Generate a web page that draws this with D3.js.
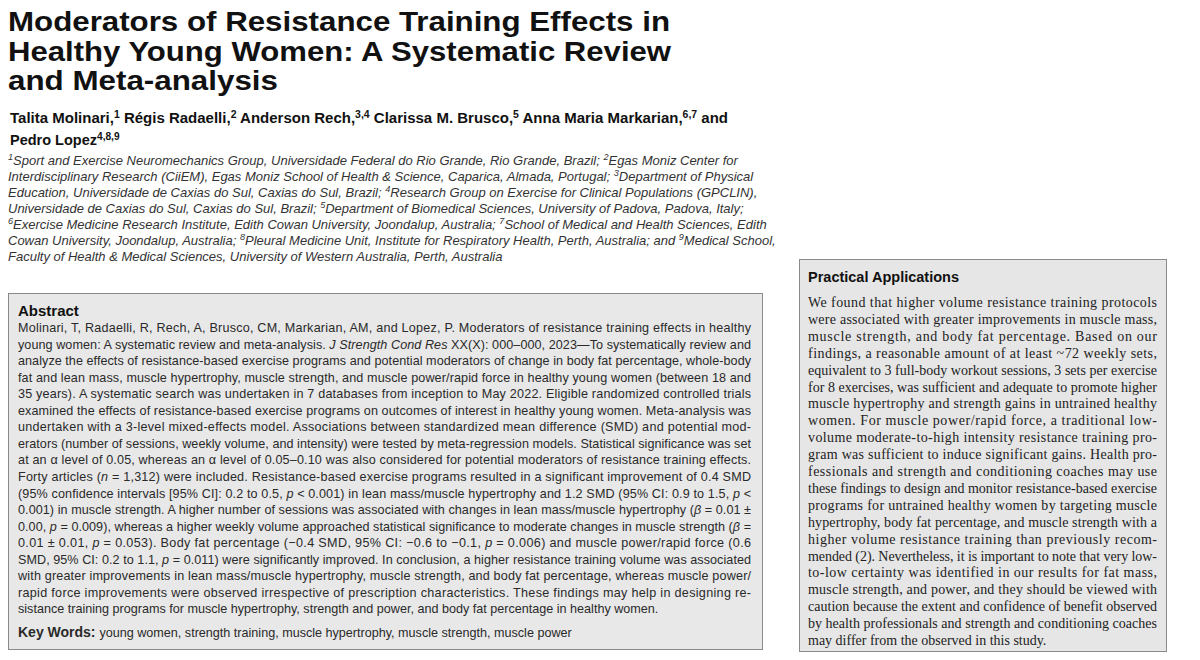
<!DOCTYPE html>
<html><head><meta charset="utf-8">
<script src="https://cdn.jsdelivr.net/npm/d3@7"></script>
<style>body{margin:0;background:#fff}</style>
</head><body>
<script>
// text content, one entry per printed line; *...* italic, ^...^ superscript
var titleLines = [
  "Moderators of Resistance Training Effects in",
  "Healthy Young Women: A Systematic Review",
  "and Meta-analysis"
];
var titleWidths = [662, 663, 270];
var authorLines = [
  "Talita Molinari,^1^ Régis Radaelli,^2^ Anderson Rech,^3,4^ Clarissa M. Brusco,^5^ Anna Maria Markarian,^6,7^ and",
  "Pedro Lopez^4,8,9^"
];
var affilLines = [
  "*^1^Sport and Exercise Neuromechanics Group, Universidade Federal do Rio Grande, Rio Grande, Brazil; ^2^Egas Moniz Center for*",
  "*Interdisciplinary Research (CiiEM), Egas Moniz School of Health & Science, Caparica, Almada, Portugal; ^3^Department of Physical*",
  "*Education, Universidade de Caxias do Sul, Caxias do Sul, Brazil; ^4^Research Group on Exercise for Clinical Populations (GPCLIN),*",
  "*Universidade de Caxias do Sul, Caxias do Sul, Brazil; ^5^Department of Biomedical Sciences, University of Padova, Padova, Italy;*",
  "*^6^Exercise Medicine Research Institute, Edith Cowan University, Joondalup, Australia; ^7^School of Medical and Health Sciences, Edith*",
  "*Cowan University, Joondalup, Australia; ^8^Pleural Medicine Unit, Institute for Respiratory Health, Perth, Australia; and ^9^Medical School,*",
  "*Faculty of Health & Medical Sciences, University of Western Australia, Perth, Australia*"
];
var abstractLines = [
  "Molinari, T, Radaelli, R, Rech, A, Brusco, CM, Markarian, AM, and Lopez, P. Moderators of resistance training effects in healthy",
  "young women: A systematic review and meta-analysis. *J Strength Cond Res* XX(X): 000–000, 2023—To systematically review and",
  "analyze the effects of resistance-based exercise programs and potential moderators of change in body fat percentage, whole-body",
  "fat and lean mass, muscle hypertrophy, muscle strength, and muscle power/rapid force in healthy young women (between 18 and",
  "35 years). A systematic search was undertaken in 7 databases from inception to May 2022. Eligible randomized controlled trials",
  "examined the effects of resistance-based exercise programs on outcomes of interest in healthy young women. Meta-analysis was",
  "undertaken with a 3-level mixed-effects model. Associations between standardized mean difference (SMD) and potential mod-",
  "erators (number of sessions, weekly volume, and intensity) were tested by meta-regression models. Statistical significance was set",
  "at an α level of 0.05, whereas an α level of 0.05–0.10 was also considered for potential moderators of resistance training effects.",
  "Forty articles (*n* = 1,312) were included. Resistance-based exercise programs resulted in a significant improvement of 0.4 SMD",
  "(95% confidence intervals [95% CI]: 0.2 to 0.5, *p* < 0.001) in lean mass/muscle hypertrophy and 1.2 SMD (95% CI: 0.9 to 1.5, *p* <",
  "0.001) in muscle strength. A higher number of sessions was associated with changes in lean mass/muscle hypertrophy (*β* = 0.01 ±",
  "0.00, *p* = 0.009), whereas a higher weekly volume approached statistical significance to moderate changes in muscle strength (*β* =",
  "0.01 ± 0.01, *p* = 0.053). Body fat percentage (−0.4 SMD, 95% CI: −0.6 to −0.1, *p* = 0.006) and muscle power/rapid force (0.6",
  "SMD, 95% CI: 0.2 to 1.1, *p* = 0.011) were significantly improved. In conclusion, a higher resistance training volume was associated",
  "with greater improvements in lean mass/muscle hypertrophy, muscle strength, and body fat percentage, whereas muscle power/",
  "rapid force improvements were observed irrespective of prescription characteristics. These findings may help in designing re-",
  "sistance training programs for muscle hypertrophy, strength and power, and body fat percentage in healthy women."
];
var keyWords = "young women, strength training, muscle hypertrophy, muscle strength, muscle power";
var practicalLines = [
  "We found that higher volume resistance training protocols",
  "were associated with greater improvements in muscle mass,",
  "muscle strength, and body fat percentage. Based on our",
  "findings, a reasonable amount of at least ~72 weekly sets,",
  "equivalent to 3 full-body workout sessions, 3 sets per exercise",
  "for 8 exercises, was sufficient and adequate to promote higher",
  "muscle hypertrophy and strength gains in untrained healthy",
  "women. For muscle power/rapid force, a traditional low-",
  "volume moderate-to-high intensity resistance training pro-",
  "gram was sufficient to induce significant gains. Health pro-",
  "fessionals and strength and conditioning coaches may use",
  "these findings to design and monitor resistance-based exercise",
  "programs for untrained healthy women by targeting muscle",
  "hypertrophy, body fat percentage, and muscle strength with a",
  "higher volume resistance training than previously recom-",
  "mended (2). Nevertheless, it is important to note that very low-",
  "to-low certainty was identified in our results for fat mass,",
  "muscle strength, and power, and they should be viewed with",
  "caution because the extent and confidence of benefit observed",
  "by health professionals and strength and conditioning coaches",
  "may differ from the observed in this study."
];

var svg = d3.select("body").append("svg").attr("width", 1200).attr("height", 660)
  .style("font-family", "Liberation Sans, Arial, sans-serif");

// parse *italic* and ^sup^ markup into tspans
function richLine(sel, str) {
  var italic = false, sup = false, buf = "";
  function flush() {
    if (!buf) return;
    var t = sel.append("tspan").text(buf);
    if (italic) t.attr("font-style", "italic");
    if (sup) t.attr("baseline-shift", "super").attr("font-size", "70%");
    buf = "";
  }
  for (var i = 0; i < str.length; i++) {
    var c = str[i];
    if (c === "*") { flush(); italic = !italic; }
    else if (c === "^") { flush(); sup = !sup; }
    else buf += c;
  }
  flush();
}

function block(lines, o) {
  lines.forEach(function (l, i) {
    var t = svg.append("text")
      .attr("x", o.x).attr("y", o.y + i * o.dy)
      .attr("font-size", o.size)
      .attr("font-weight", o.weight || "normal")
      .attr("fill", o.fill || "#231f20");
    if (o.family) t.style("font-family", o.family);
    var w = o.widths ? o.widths[i] : (i < lines.length - 1 ? o.width : null);
    if (w) t.attr("textLength", w).attr("lengthAdjust", o.adjust || "spacing");
    richLine(t, l);
  });
}

block(titleLines, {x: 8, y: 31, dy: 29.5, size: 28, weight: "bold", fill: "#111",
  widths: titleWidths, adjust: "spacingAndGlyphs"});
block(authorLines, {x: 10, y: 123, dy: 22, size: 14.5, weight: "bold", fill: "#111",
  widths: [718, null], adjust: "spacingAndGlyphs"});
block(affilLines, {x: 8, y: 165, dy: 16, size: 13, fill: "#333"});

// abstract box
svg.append("rect").attr("x", 8.5).attr("y", 293.5).attr("width", 754).attr("height", 356)
  .attr("fill", "#e8e8e8").attr("stroke", "#8a8a8a");
svg.append("text").attr("x", 18).attr("y", 316).attr("font-size", 15).attr("font-weight", "bold")
  .attr("fill", "#111").text("Abstract");
block(abstractLines, {x: 18, y: 332, dy: 16.55, size: 12.6, width: 733, fill: "#2a2a2a"});
var kw = svg.append("text").attr("x", 18).attr("y", 637).attr("font-size", 12.6).attr("fill", "#2a2a2a");
kw.append("tspan").attr("font-weight", "bold").attr("font-size", 14).text("Key Words: ");
kw.append("tspan").text(keyWords);

// practical applications box
svg.append("rect").attr("x", 799.5).attr("y", 259.5).attr("width", 367).attr("height", 392)
  .attr("fill", "#e6e6e6").attr("stroke", "#8a8a8a");
svg.append("text").attr("x", 808).attr("y", 282).attr("font-size", 14.5).attr("font-weight", "bold")
  .attr("fill", "#111").text("Practical Applications");
block(practicalLines, {x: 808, y: 307, dy: 16.9, size: 14, width: 349,
  family: "Liberation Serif, Times New Roman, serif", fill: "#222"});
</script>
</body></html>
